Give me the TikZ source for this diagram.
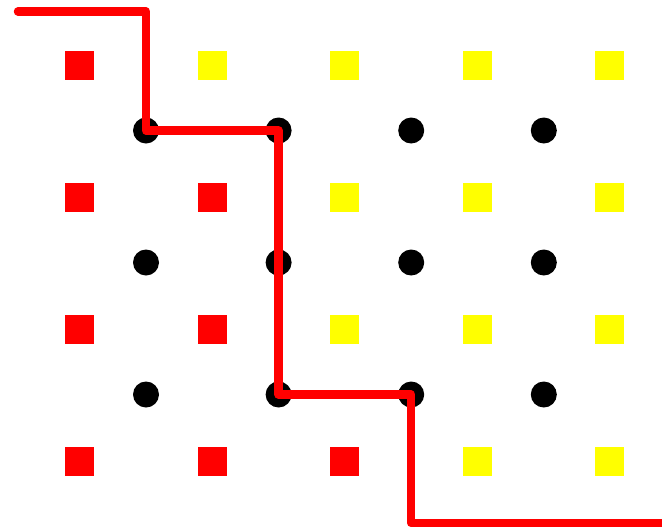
\documentclass[tikz,border=0pt]{standalone}
\definecolor{yel}{RGB}{255,255,0}
\definecolor{rd}{RGB}{255,0,0}
\begin{document}
\begin{tikzpicture}[x=1pt,y=-1pt,
  sq/.style={minimum size=29pt,inner sep=0pt,outer sep=0pt,draw=none},
  redsq/.style={sq,fill=rd},
  yelsq/.style={sq,fill=yel},
  dot/.style={circle,fill=black,minimum size=26pt,inner sep=0pt,outer sep=0pt,draw=none},
  route/.style={rd,line width=8.5pt,line cap=round,line join=round}]
\useasboundingbox (0,0) rectangle (662,531);
% squares
\foreach \j/\reds in {0/0,1/1,2/1,3/2}{
  \foreach \i in {0,...,4}{
    \pgfmathsetmacro{\xx}{79.5+132.6*\i}
    \pgfmathsetmacro{\yy}{65+132*\j}
    \ifnum\i>\reds
      \node[yelsq] (s\i\j) at (\xx,\yy) {};
    \else
      \node[redsq] (s\i\j) at (\xx,\yy) {};
    \fi
  }
}
% dots
\foreach \j in {0,1,2}{
  \foreach \i in {0,...,3}{
    \pgfmathsetmacro{\xx}{146+132.6*\i}
    \pgfmathsetmacro{\yy}{130.5+132*\j}
    \node[dot] (d\i\j) at (\xx,\yy) {};
  }
}
\coordinate (start) at (18,11.5);
\coordinate (finish) at (664,523);
\draw[route] (start) -| (d00.center) -- (d10.center) -- (d12.center) -- (d22.center) |- (finish);
\end{tikzpicture}
\end{document}
